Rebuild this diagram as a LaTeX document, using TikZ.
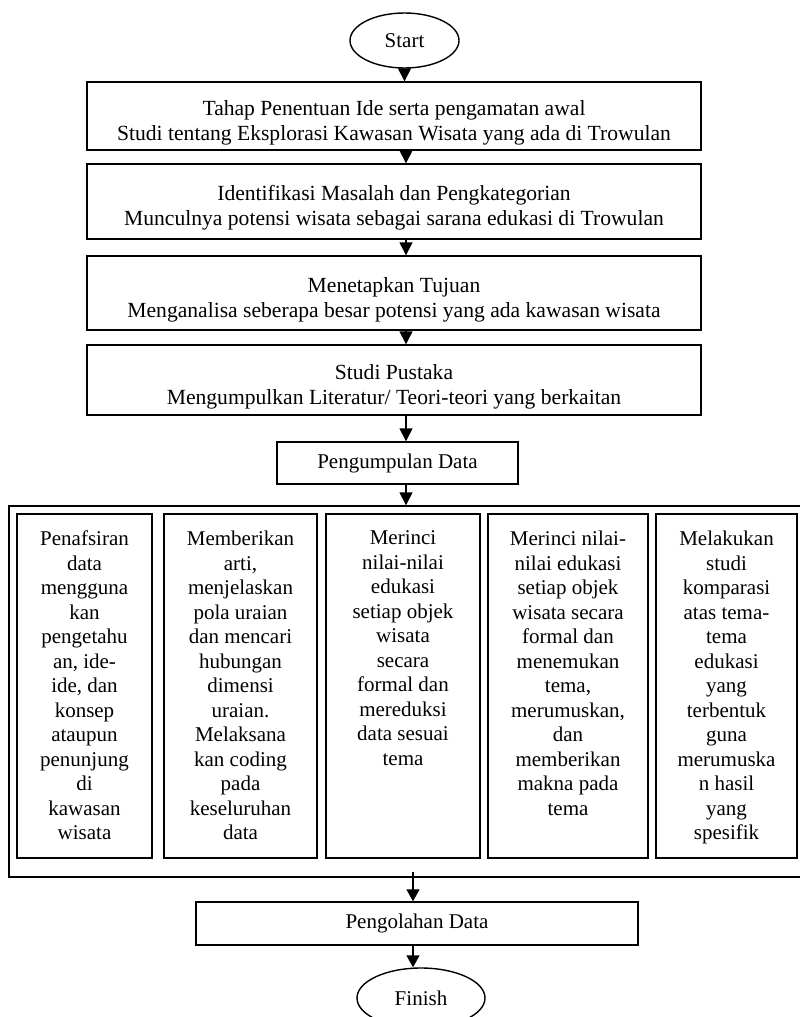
\documentclass[tikz,border=0pt]{standalone}
\usepackage{fontspec}
\setmainfont{Liberation Serif}
\usetikzlibrary{arrows.meta,shapes.geometric}
\newcommand{\diafont}{\fontsize{21}{24.5}\selectfont}
\newcommand{\widefont}{\fontsize{21.6}{25}\selectfont}
\newcommand{\coltext}[2]{\parbox[c][310pt][t]{#1}{\centering #2}}
\newcommand{\topstrut}{\rule{0pt}{28pt}}
\begin{document}
\begin{tikzpicture}[x=1pt,y=-1pt,
  line width=1.4pt,
  box/.style={draw, line width=1.4pt, fill=white, inner sep=0pt, align=center, font=\diafont},
  widebox/.style={box, font=\widefont, minimum width=614pt, minimum height=#1},
  colbox/.style={box, minimum width=#1, minimum height=344pt, inner ysep=17pt},
  term/.style={draw, ellipse, line width=1.4pt, fill=white, inner sep=0pt, font=\diafont},
  arr/.style={line width=1.4pt, -{Triangle[width=13pt,length=13pt]}},
  arrs/.style={line width=1.4pt, -{Triangle[width=13pt,length=12pt]}}
]
\useasboundingbox (0,0) rectangle (800,1017);
\fill[white] (0,0) rectangle (800,1017);

\node[term, minimum width=109pt, minimum height=55pt] (start) at (404.5,40.5) {Start};

\node[widebox=68pt] (b1) at (394,116) {\topstrut Tahap Penentuan Ide serta pengamatan awal\\Studi tentang Eksplorasi Kawasan Wisata yang ada di Trowulan};
\node[widebox=75pt] (b2) at (394,201.5) {\topstrut Identifikasi Masalah dan Pengkategorian\\Munculnya potensi wisata sebagai sarana edukasi di Trowulan};
\node[widebox=74pt] (b3) at (394,293) {\topstrut Menetapkan Tujuan\\Menganalisa seberapa besar potensi yang ada kawasan wisata};
\node[widebox=70pt] (b4) at (394,380) {\topstrut Studi Pustaka\\Mengumpulkan Literatur/ Teori-teori yang berkaitan};

\node[box, minimum width=241pt, minimum height=42pt] (pd) at (397.5,463) {Pengumpulan Data};

\node[draw, line width=1.4pt, inner sep=0pt, minimum width=797pt, minimum height=371pt] (grp) at (407.5,691.5) {};

\node[colbox=135pt] (c1) at (84.5,686) {\coltext{135pt}{Penafsiran\\data\\mengguna\\kan\\pengetahu\\an, ide-\\ide, dan\\konsep\\ataupun\\penunjung\\di\\kawasan\\wisata}};
\node[colbox=153pt] (c2) at (240.5,686) {\coltext{153pt}{Memberikan\\arti,\\menjelaskan\\pola uraian\\dan mencari\\hubungan\\dimensi\\uraian.\\Melaksana\\kan coding\\pada\\keseluruhan\\data}};
\node[colbox=154pt] (c3) at (403,686) {\coltext{154pt}{Merinci\\nilai-nilai\\edukasi\\setiap objek\\wisata\\secara\\formal dan\\mereduksi\\data sesuai\\tema}};
\node[colbox=160pt] (c4) at (568,686) {\coltext{160pt}{Merinci nilai-\\nilai edukasi\\setiap objek\\wisata secara\\formal dan\\menemukan\\tema,\\merumuskan,\\dan\\memberikan\\makna pada\\tema}};
\node[colbox=141pt] (c5) at (726.5,686) {\coltext{141pt}{Melakukan\\studi\\komparasi\\atas tema-\\tema\\edukasi\\yang\\terbentuk\\guna\\merumuska\\n hasil\\yang\\spesifik}};

\node[box, minimum width=442pt, minimum height=43pt] (po) at (417,923.5) {Pengolahan Data};
\node[term, minimum width=128pt, minimum height=60pt] (fin) at (421,998) {Finish};

\coordinate (ax) at (406,0);
\coordinate (bx) at (413,872);

\draw[arr] (start.south) -- (start.south |- b1.north);
\draw[arr] (b1.south -| ax) -- (b2.north -| ax);
\draw[arr] (b2.south -| ax) -- (b3.north -| ax);
\draw[arr] (b3.south -| ax) -- (b4.north -| ax);
\draw[arr] (b4.south -| ax) -- (pd.north -| ax);
\draw[arr] (pd.south -| ax) -- (grp.north -| ax);
\draw[arrs] (bx) -- (po.north -| bx);
\draw[arrs] (po.south -| bx) -- (fin.north -| bx);
\end{tikzpicture}
\end{document}
